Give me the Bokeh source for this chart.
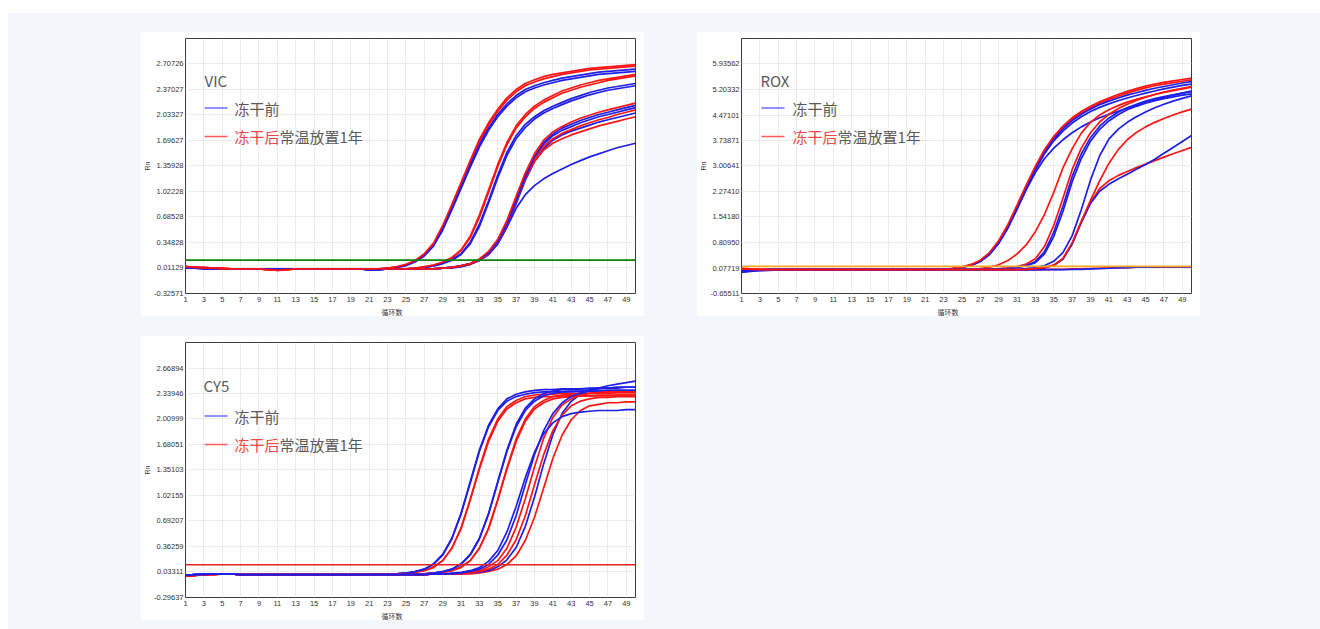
from bokeh.plotting import figure
from bokeh.models import Range1d, FixedTicker, PrintfTickFormatter, Span, Label, Arrow, Spacer, Title
from bokeh.layouts import row, column
from bokeh.embed import file_html
from bokeh.resources import INLINE

# ---------------- data ----------------
CYCLES = list(range(1, 51))
X_TICKS = [1, 3, 5, 7, 9, 11, 13, 15, 17, 19, 21, 23, 25, 27, 29, 31, 33, 35, 37, 39, 41, 43, 45, 47, 49]
X_RANGE = [1, 50]

LEGEND_BEFORE = "冻干前"
LEGEND_AFTER_RED = "冻干后"
LEGEND_AFTER_REST = "常温放置1年"
X_LABEL = "循环数"
Y_LABEL = "Rn"

# VIC
VIC_Y_TICKS = [-0.32571, 0.01129, 0.34828, 0.68528, 1.02228, 1.35928, 1.69627, 2.03327, 2.37027, 2.70726]
VIC_Y_RANGE = [-0.32571, 3.04425]
VIC_THRESHOLD = 0.115

VIC_BEFORE_1 = [0.02, 0.01, 0.01, 0, 0, 0, 0, 0, 0, 0,
                0, 0, 0, 0, 0, 0, 0, 0, 0, 0,
                -0.01, -0.01, 0.01, 0.02, 0.05, 0.10, 0.18, 0.31, 0.53, 0.80,
                1.08, 1.37, 1.64, 1.86, 2.04, 2.18, 2.29, 2.37, 2.42, 2.46,
                2.49, 2.52, 2.54, 2.56, 2.58, 2.60, 2.61, 2.62, 2.63, 2.64]
VIC_AFTER_1 = [0.03, 0.02, 0.01, 0.01, 0, 0, 0, 0, 0, -0.01,
               -0.02, -0.01, 0, 0, 0, 0, 0, 0, 0, 0,
               0, 0, 0.01, 0.03, 0.06, 0.11, 0.20, 0.34, 0.57, 0.85,
               1.14, 1.43, 1.71, 1.93, 2.11, 2.26, 2.37, 2.45, 2.50, 2.54,
               2.57, 2.59, 2.61, 2.63, 2.65, 2.66, 2.67, 2.68, 2.69, 2.70]
VIC_BEFORE_2 = [0.02, 0.02, 0.01, 0.01, 0, 0, 0, 0, 0, 0,
                0, 0, 0, 0, 0, 0, 0, 0, 0, 0,
                -0.01, 0, 0, 0.02, 0.04, 0.09, 0.17, 0.30, 0.51, 0.78,
                1.06, 1.34, 1.61, 1.83, 2.01, 2.15, 2.26, 2.34, 2.39, 2.43,
                2.46, 2.49, 2.51, 2.53, 2.55, 2.57, 2.58, 2.59, 2.60, 2.61]
VIC_AFTER_2 = [0.03, 0.02, 0.02, 0.01, 0.01, 0, 0, 0, 0, -0.01,
               -0.01, -0.01, 0, 0, 0, 0, 0, 0, 0, 0,
               0, 0, 0.01, 0.02, 0.05, 0.10, 0.19, 0.32, 0.55, 0.83,
               1.11, 1.40, 1.68, 1.90, 2.08, 2.23, 2.34, 2.42, 2.47, 2.51,
               2.54, 2.57, 2.59, 2.61, 2.63, 2.64, 2.65, 2.66, 2.67, 2.68]
VIC_BEFORE_3 = [0.02, 0.01, 0.01, 0, 0, 0, 0, 0, 0, 0,
                0, 0, 0, 0, 0, 0, 0, 0, 0, 0,
                -0.01, -0.01, 0, 0, 0, 0.01, 0.02, 0.04, 0.07, 0.12,
                0.20, 0.35, 0.59, 0.90, 1.24, 1.54, 1.76, 1.91, 2.01, 2.09,
                2.15, 2.20, 2.25, 2.29, 2.33, 2.36, 2.39, 2.41, 2.43, 2.45]
VIC_AFTER_3 = [0.03, 0.02, 0.01, 0.01, 0, 0, 0, 0, 0, 0,
               -0.01, 0, 0, 0, 0, 0, 0, 0, 0, 0,
               0, 0, 0, 0, 0, 0.01, 0.03, 0.05, 0.09, 0.15,
               0.25, 0.43, 0.71, 1.04, 1.38, 1.67, 1.89, 2.04, 2.15, 2.23,
               2.29, 2.35, 2.39, 2.43, 2.46, 2.49, 2.51, 2.53, 2.55, 2.57]
VIC_BEFORE_4 = [0.02, 0.01, 0, 0, 0, 0, 0, 0, 0, 0,
                0, 0, 0, 0, 0, 0, 0, 0, 0, 0,
                -0.01, -0.01, 0, 0, 0, 0, 0.02, 0.04, 0.07, 0.11,
                0.19, 0.33, 0.56, 0.87, 1.20, 1.50, 1.72, 1.87, 1.98, 2.06,
                2.12, 2.17, 2.22, 2.26, 2.30, 2.33, 2.36, 2.38, 2.40, 2.42]
VIC_AFTER_4 = [0.03, 0.02, 0.01, 0.01, 0.01, 0, 0, 0, 0, -0.01,
               -0.01, 0, 0, 0, 0, 0, 0, 0, 0, 0,
               0, 0, 0, 0, 0, 0.01, 0.02, 0.05, 0.08, 0.14,
               0.24, 0.41, 0.68, 1.01, 1.35, 1.64, 1.86, 2.01, 2.12, 2.20,
               2.26, 2.32, 2.36, 2.40, 2.43, 2.46, 2.49, 2.51, 2.53, 2.55]
VIC_BEFORE_5 = [0.02, 0.01, 0.01, 0, 0, 0, 0, 0, 0, 0,
                0, 0, 0, 0, 0, 0, 0, 0, 0, 0,
                -0.01, -0.01, 0, 0, 0, 0, 0, 0, 0.01, 0.02,
                0.04, 0.07, 0.12, 0.21, 0.36, 0.60, 0.91, 1.22, 1.48, 1.67,
                1.78, 1.86, 1.91, 1.96, 2.00, 2.04, 2.07, 2.10, 2.13, 2.16]
VIC_AFTER_5 = [0.03, 0.02, 0.01, 0.01, 0, 0, 0, 0, 0, -0.01,
               -0.02, -0.01, 0, 0, 0, 0, 0, 0, 0, 0,
               0, 0, 0, 0, 0, 0, 0, 0, 0.01, 0.02,
               0.04, 0.07, 0.13, 0.23, 0.39, 0.64, 0.96, 1.27, 1.52, 1.70,
               1.81, 1.88, 1.94, 1.99, 2.03, 2.07, 2.10, 2.13, 2.16, 2.19]
VIC_BEFORE_6 = [0.02, 0.01, 0.01, 0.01, 0, 0, 0, 0, 0, 0,
                0, 0, 0, 0, 0, 0, 0, 0, 0, 0,
                0, -0.01, 0, 0, 0, 0, 0, 0, 0.01, 0.02,
                0.04, 0.07, 0.12, 0.21, 0.36, 0.60, 0.91, 1.22, 1.47, 1.65,
                1.76, 1.83, 1.88, 1.93, 1.97, 2.01, 2.04, 2.07, 2.10, 2.13]
VIC_AFTER_6 = [0.03, 0.02, 0.02, 0.01, 0, 0, 0, 0, 0, 0,
               -0.01, -0.01, 0, 0, 0, 0, 0, 0, 0, 0,
               0, 0, 0, 0, 0, 0, 0, 0, 0.01, 0.02,
               0.04, 0.07, 0.12, 0.22, 0.37, 0.62, 0.93, 1.23, 1.46, 1.62,
               1.72, 1.79, 1.84, 1.89, 1.93, 1.97, 2.00, 2.04, 2.07, 2.10]
VIC_BEFORE_7 = [0.02, 0.01, 0, 0, 0, 0, 0, 0, 0, 0,
                0, 0, 0, 0, 0, 0, 0, 0, 0, 0,
                -0.01, -0.01, 0, 0, 0, 0, 0, 0, 0.01, 0.01,
                0.03, 0.06, 0.11, 0.19, 0.33, 0.56, 0.86, 1.17, 1.42, 1.59,
                1.70, 1.77, 1.82, 1.86, 1.90, 1.94, 1.97, 2.00, 2.03, 2.06]
VIC_AFTER_7 = [0.03, 0.02, 0.01, 0.01, 0, 0, 0, 0, 0, -0.01,
               -0.01, 0, 0, 0, 0, 0, 0, 0, 0, 0,
               0, 0, 0, 0, 0, 0, 0, 0, 0.01, 0.02,
               0.04, 0.06, 0.11, 0.20, 0.35, 0.58, 0.89, 1.19, 1.42, 1.57,
               1.66, 1.72, 1.77, 1.81, 1.85, 1.89, 1.92, 1.95, 1.98, 2.01]
VIC_BEFORE_8 = [0.02, 0.01, 0.01, 0, 0, 0, 0, 0, 0, 0,
                0, 0, 0, 0, 0, 0, 0, 0, 0, 0,
                -0.01, -0.01, 0, 0, 0, 0, 0, 0, 0.01, 0.02,
                0.03, 0.06, 0.11, 0.19, 0.33, 0.55, 0.80, 0.98, 1.10, 1.19,
                1.26, 1.32, 1.38, 1.43, 1.48, 1.52, 1.56, 1.60, 1.63, 1.66]

# ROX
ROX_Y_TICKS = [-0.65511, 0.07719, 0.80950, 1.54180, 2.27410, 3.00641, 3.73871, 4.47101, 5.20332, 5.93562]
ROX_Y_RANGE = [-0.65511, 6.66792]
ROX_THRESHOLD = 0.125

ROX_BEFORE_1 = [-0.03, 0.00, 0.01, 0.02, 0.02, 0.03, 0.03, 0.03, 0.03, 0.03,
                0.03, 0.03, 0.03, 0.03, 0.03, 0.03, 0.03, 0.03, 0.03, 0.03,
                0.03, 0.03, 0.04, 0.06, 0.10, 0.16, 0.27, 0.48, 0.80, 1.25,
                1.80, 2.38, 2.92, 3.40, 3.78, 4.07, 4.31, 4.49, 4.64, 4.77,
                4.87, 4.96, 5.04, 5.11, 5.18, 5.24, 5.29, 5.34, 5.39, 5.43]
ROX_AFTER_1 = [0.07, 0.05, 0.04, 0.03, 0.03, 0.03, 0.03, 0.03, 0.03, 0.03,
               0.03, 0.03, 0.03, 0.03, 0.03, 0.03, 0.03, 0.03, 0.03, 0.03,
               0.03, 0.03, 0.04, 0.07, 0.11, 0.18, 0.30, 0.52, 0.86, 1.32,
               1.88, 2.46, 3.00, 3.48, 3.86, 4.15, 4.39, 4.57, 4.72, 4.85,
               4.96, 5.06, 5.15, 5.23, 5.30, 5.36, 5.41, 5.45, 5.49, 5.53]
ROX_BEFORE_2 = [0.00, 0.01, 0.02, 0.02, 0.03, 0.03, 0.03, 0.03, 0.03, 0.03,
                0.03, 0.03, 0.03, 0.03, 0.03, 0.03, 0.03, 0.03, 0.03, 0.03,
                0.03, 0.03, 0.04, 0.06, 0.09, 0.15, 0.26, 0.46, 0.78, 1.22,
                1.77, 2.35, 2.89, 3.36, 3.73, 4.01, 4.24, 4.42, 4.57, 4.69,
                4.79, 4.88, 4.96, 5.03, 5.10, 5.16, 5.22, 5.27, 5.32, 5.36]
ROX_AFTER_2 = [0.05, 0.04, 0.03, 0.03, 0.03, 0.03, 0.03, 0.03, 0.03, 0.03,
               0.03, 0.03, 0.03, 0.03, 0.03, 0.03, 0.03, 0.03, 0.03, 0.03,
               0.03, 0.03, 0.04, 0.06, 0.10, 0.17, 0.28, 0.50, 0.83, 1.28,
               1.84, 2.42, 2.96, 3.44, 3.82, 4.11, 4.35, 4.53, 4.68, 4.81,
               4.92, 5.01, 5.10, 5.18, 5.25, 5.31, 5.36, 5.40, 5.44, 5.48]
ROX_BEFORE_3 = [-0.05, -0.02, 0.00, 0.01, 0.02, 0.02, 0.03, 0.03, 0.03, 0.03,
                0.03, 0.03, 0.03, 0.03, 0.03, 0.03, 0.03, 0.03, 0.03, 0.03,
                0.03, 0.03, 0.04, 0.06, 0.10, 0.16, 0.27, 0.47, 0.79, 1.23,
                1.77, 2.32, 2.82, 3.22, 3.52, 3.76, 3.96, 4.13, 4.27, 4.39,
                4.49, 4.58, 4.67, 4.75, 4.83, 4.90, 4.97, 5.04, 5.10, 5.16]
ROX_AFTER_3 = [0.06, 0.04, 0.03, 0.03, 0.03, 0.03, 0.03, 0.03, 0.03, 0.03,
               0.03, 0.03, 0.03, 0.03, 0.03, 0.03, 0.03, 0.03, 0.03, 0.03,
               0.03, 0.03, 0.03, 0.03, 0.03, 0.04, 0.06, 0.10, 0.17, 0.29,
               0.48, 0.74, 1.12, 1.62, 2.25, 2.95, 3.50, 3.95, 4.26, 4.47,
               4.62, 4.74, 4.84, 4.92, 4.99, 5.06, 5.12, 5.17, 5.22, 5.27]
ROX_AFTER_4 = [0.06, 0.04, 0.03, 0.03, 0.03, 0.03, 0.03, 0.03, 0.03, 0.03,
               0.03, 0.03, 0.03, 0.03, 0.03, 0.03, 0.03, 0.03, 0.03, 0.03,
               0.03, 0.03, 0.03, 0.03, 0.03, 0.03, 0.03, 0.04, 0.05, 0.08,
               0.12, 0.19, 0.34, 0.70, 1.30, 2.08, 2.90, 3.52, 3.96, 4.27,
               4.49, 4.65, 4.78, 4.89, 4.98, 5.06, 5.13, 5.19, 5.24, 5.29]
ROX_BEFORE_4 = [-0.02, 0.01, 0.02, 0.03, 0.03, 0.03, 0.03, 0.03, 0.03, 0.03,
                0.03, 0.03, 0.03, 0.03, 0.03, 0.03, 0.03, 0.03, 0.03, 0.03,
                0.03, 0.03, 0.03, 0.03, 0.03, 0.03, 0.03, 0.04, 0.05, 0.07,
                0.10, 0.15, 0.26, 0.55, 1.10, 1.85, 2.70, 3.35, 3.82, 4.15,
                4.38, 4.55, 4.68, 4.78, 4.87, 4.94, 5.00, 5.05, 5.10, 5.14]
ROX_BEFORE_5 = [0.01, 0.02, 0.02, 0.03, 0.03, 0.03, 0.03, 0.03, 0.03, 0.03,
                0.03, 0.03, 0.03, 0.03, 0.03, 0.03, 0.03, 0.03, 0.03, 0.03,
                0.03, 0.03, 0.03, 0.03, 0.03, 0.03, 0.03, 0.04, 0.04, 0.06,
                0.09, 0.14, 0.23, 0.48, 0.98, 1.70, 2.55, 3.22, 3.72, 4.06,
                4.30, 4.48, 4.62, 4.72, 4.81, 4.88, 4.94, 4.99, 5.04, 5.08]
ROX_BEFORE_6 = [0.00, 0.01, 0.02, 0.03, 0.03, 0.03, 0.03, 0.03, 0.03, 0.03,
                0.03, 0.03, 0.03, 0.03, 0.03, 0.03, 0.03, 0.03, 0.03, 0.03,
                0.03, 0.03, 0.03, 0.03, 0.03, 0.03, 0.03, 0.03, 0.03, 0.03,
                0.04, 0.06, 0.09, 0.15, 0.27, 0.52, 1.00, 1.75, 2.60, 3.30,
                3.78, 4.06, 4.26, 4.42, 4.56, 4.68, 4.78, 4.87, 4.95, 5.02]
ROX_AFTER_5 = [0.05, 0.04, 0.03, 0.03, 0.03, 0.03, 0.03, 0.03, 0.03, 0.03,
               0.03, 0.03, 0.03, 0.03, 0.03, 0.03, 0.03, 0.03, 0.03, 0.03,
               0.03, 0.03, 0.03, 0.03, 0.03, 0.03, 0.03, 0.03, 0.03, 0.03,
               0.03, 0.04, 0.06, 0.09, 0.16, 0.35, 0.80, 1.42, 2.02, 2.58,
               3.08, 3.47, 3.76, 3.97, 4.13, 4.26, 4.37, 4.47, 4.56, 4.64]
ROX_AFTER_6 = [0.04, 0.03, 0.03, 0.03, 0.03, 0.03, 0.03, 0.03, 0.03, 0.03,
               0.03, 0.03, 0.03, 0.03, 0.03, 0.03, 0.03, 0.03, 0.03, 0.03,
               0.03, 0.03, 0.03, 0.03, 0.03, 0.03, 0.03, 0.03, 0.03, 0.03,
               0.03, 0.04, 0.06, 0.09, 0.16, 0.34, 0.78, 1.40, 1.96, 2.36,
               2.58, 2.73, 2.85, 2.96, 3.06, 3.16, 3.26, 3.36, 3.45, 3.54]
ROX_BEFORE_7 = [-0.01, 0.01, 0.02, 0.03, 0.03, 0.03, 0.03, 0.03, 0.03, 0.03,
                0.03, 0.03, 0.03, 0.03, 0.03, 0.03, 0.03, 0.03, 0.03, 0.03,
                0.03, 0.03, 0.03, 0.03, 0.03, 0.03, 0.03, 0.03, 0.03, 0.03,
                0.03, 0.04, 0.05, 0.08, 0.15, 0.33, 0.76, 1.38, 1.93, 2.28,
                2.48, 2.63, 2.77, 2.91, 3.05, 3.20, 3.37, 3.54, 3.71, 3.88]
ROX_AFTER_7 = [0.04, 0.03, 0.02, 0.02, 0.02, 0.02, 0.02, 0.02, 0.02, 0.02,
               0.02, 0.02, 0.02, 0.02, 0.02, 0.02, 0.02, 0.02, 0.02, 0.02,
               0.02, 0.02, 0.02, 0.02, 0.02, 0.02, 0.02, 0.02, 0.02, 0.02,
               0.02, 0.03, 0.03, 0.03, 0.04, 0.04, 0.05, 0.05, 0.06, 0.07,
               0.08, 0.09, 0.09, 0.10, 0.10, 0.10, 0.10, 0.10, 0.10, 0.10]
ROX_BEFORE_8 = [0.01, 0.01, 0.02, 0.02, 0.02, 0.02, 0.02, 0.02, 0.02, 0.02,
                0.02, 0.02, 0.02, 0.02, 0.02, 0.02, 0.02, 0.02, 0.02, 0.02,
                0.02, 0.02, 0.02, 0.02, 0.02, 0.02, 0.02, 0.02, 0.02, 0.02,
                0.02, 0.02, 0.02, 0.03, 0.03, 0.03, 0.04, 0.04, 0.05, 0.06,
                0.07, 0.08, 0.09, 0.10, 0.10, 0.11, 0.11, 0.11, 0.11, 0.11]

# CY5
CY5_Y_TICKS = [-0.29637, 0.03311, 0.36259, 0.69207, 1.02155, 1.35103, 1.68051, 2.00999, 2.33946, 2.66894]
CY5_Y_RANGE = [-0.29637, 2.99842]
CY5_THRESHOLD = 0.126

CY5_BEFORE_1 = [-0.01, 0, 0, 0.01, 0.01, 0.01, 0, 0, 0, 0,
                0, 0, 0, 0, 0, 0, 0, 0, 0, 0,
                0, 0.01, 0.01, 0.01, 0.02, 0.04, 0.07, 0.14, 0.26, 0.47,
                0.79, 1.20, 1.61, 1.93, 2.14, 2.27, 2.33, 2.36, 2.38, 2.39,
                2.39, 2.40, 2.40, 2.40, 2.41, 2.41, 2.41, 2.42, 2.42, 2.42]
CY5_AFTER_1 = [-0.02, -0.01, 0, 0, 0.01, 0.01, 0, 0, 0, 0,
               0, 0, 0, 0, 0, 0, 0, 0, 0, 0,
               0, 0.01, 0.01, 0.01, 0.02, 0.03, 0.05, 0.10, 0.18, 0.34,
               0.60, 0.97, 1.38, 1.75, 2.01, 2.17, 2.25, 2.30, 2.32, 2.33,
               2.33, 2.34, 2.34, 2.34, 2.34, 2.35, 2.35, 2.35, 2.35, 2.35]
CY5_BEFORE_2 = [-0.01, 0, 0.01, 0.01, 0.01, 0.01, 0, 0, 0, 0,
                0, 0, 0, 0, 0, 0, 0, 0, 0, 0,
                0, 0.01, 0.01, 0.01, 0.02, 0.04, 0.07, 0.13, 0.25, 0.46,
                0.78, 1.18, 1.59, 1.91, 2.12, 2.24, 2.30, 2.33, 2.35, 2.36,
                2.36, 2.36, 2.37, 2.37, 2.37, 2.37, 2.38, 2.38, 2.38, 2.38]
CY5_AFTER_2 = [-0.02, -0.01, 0, 0.01, 0.01, 0.01, 0, 0, 0, 0,
               0, 0, 0, 0, 0, 0, 0, 0, 0, 0,
               0, 0.01, 0.01, 0.01, 0.02, 0.03, 0.05, 0.09, 0.18, 0.34,
               0.59, 0.96, 1.36, 1.72, 1.98, 2.14, 2.22, 2.27, 2.29, 2.30,
               2.30, 2.31, 2.31, 2.31, 2.31, 2.32, 2.32, 2.32, 2.32, 2.32]
CY5_BEFORE_3 = [-0.01, 0, 0, 0.01, 0.01, 0.01, 0, 0, 0, 0,
                0, 0, 0, 0, 0, 0, 0, 0, 0, 0,
                0, 0, 0, 0, 0.01, 0.01, 0.01, 0.02, 0.04, 0.07,
                0.14, 0.26, 0.47, 0.79, 1.20, 1.61, 1.94, 2.15, 2.27, 2.34,
                2.37, 2.39, 2.39, 2.40, 2.40, 2.41, 2.41, 2.41, 2.42, 2.42]
CY5_AFTER_3 = [-0.02, -0.01, 0, 0, 0.01, 0.01, 0, 0, 0, 0,
               0, 0, 0, 0, 0, 0, 0, 0, 0, 0,
               0, 0, 0, 0, 0.01, 0.01, 0.01, 0.02, 0.03, 0.05,
               0.10, 0.18, 0.34, 0.60, 0.97, 1.38, 1.75, 2.01, 2.17, 2.25,
               2.30, 2.32, 2.33, 2.34, 2.34, 2.34, 2.34, 2.35, 2.35, 2.35]
CY5_BEFORE_4 = [-0.01, 0, 0.01, 0.01, 0.01, 0.01, 0, 0, 0, 0,
                0, 0, 0, 0, 0, 0, 0, 0, 0, 0,
                0, 0, 0, 0, 0.01, 0.01, 0.01, 0.02, 0.04, 0.07,
                0.13, 0.25, 0.46, 0.78, 1.19, 1.59, 1.91, 2.12, 2.24, 2.31,
                2.34, 2.36, 2.36, 2.37, 2.37, 2.37, 2.38, 2.38, 2.38, 2.38]
CY5_AFTER_4 = [-0.02, -0.01, 0, 0.01, 0.01, 0.01, 0, 0, 0, 0,
               0, 0, 0, 0, 0, 0, 0, 0, 0, 0,
               0, 0, 0, 0, 0.01, 0.01, 0.01, 0.02, 0.03, 0.05,
               0.09, 0.18, 0.34, 0.59, 0.96, 1.36, 1.72, 1.98, 2.14, 2.22,
               2.27, 2.29, 2.30, 2.31, 2.31, 2.31, 2.31, 2.32, 2.32, 2.32]
CY5_BEFORE_5 = [-0.01, 0, 0, 0.01, 0.01, 0.01, 0, 0, 0, 0,
                0, 0, 0, 0, 0, 0, 0, 0, 0, 0,
                0, 0, 0, 0, 0, 0, 0, 0.01, 0.01, 0.02,
                0.03, 0.05, 0.09, 0.17, 0.31, 0.55, 0.88, 1.25, 1.58, 1.82,
                1.96, 2.04, 2.08, 2.10, 2.11, 2.12, 2.12, 2.12, 2.13, 2.13]
CY5_BEFORE_6 = [-0.01, 0, 0.01, 0.01, 0.01, 0.01, 0, 0, 0, 0,
                0, 0, 0, 0, 0, 0, 0, 0, 0, 0,
                0, 0, 0, 0, 0, 0, 0, 0.01, 0.01, 0.01,
                0.02, 0.04, 0.07, 0.13, 0.25, 0.45, 0.76, 1.16, 1.55, 1.86,
                2.08, 2.22, 2.30, 2.35, 2.38, 2.41, 2.44, 2.46, 2.48, 2.50]
CY5_AFTER_5 = [-0.02, -0.01, 0, 0, 0.01, 0.01, 0, 0, 0, 0,
               0, 0, 0, 0, 0, 0, 0, 0, 0, 0,
               0, 0, 0, 0, 0, 0, 0, 0.01, 0.01, 0.01,
               0.02, 0.03, 0.05, 0.10, 0.18, 0.34, 0.61, 0.98, 1.39, 1.76,
               2.03, 2.19, 2.27, 2.32, 2.34, 2.35, 2.36, 2.36, 2.36, 2.36]
CY5_AFTER_6 = [-0.02, -0.01, 0, 0.01, 0.01, 0.01, 0, 0, 0, 0,
               0, 0, 0, 0, 0, 0, 0, 0, 0, 0,
               0, 0, 0, 0, 0, 0, 0, 0.01, 0.01, 0.01,
               0.01, 0.02, 0.04, 0.07, 0.13, 0.25, 0.45, 0.76, 1.16, 1.55,
               1.86, 2.06, 2.18, 2.24, 2.27, 2.29, 2.29, 2.30, 2.30, 2.30]
CY5_BEFORE_7 = [-0.01, 0, 0, 0.01, 0.01, 0.01, 0, 0, 0, 0,
                0, 0, 0, 0, 0, 0, 0, 0, 0, 0,
                0, 0, 0, 0, 0, 0, 0, 0.01, 0.01, 0.01,
                0.01, 0.02, 0.03, 0.05, 0.10, 0.19, 0.35, 0.62, 1.00, 1.43,
                1.81, 2.08, 2.24, 2.33, 2.38, 2.40, 2.41, 2.42, 2.42, 2.42]
CY5_AFTER_7 = [-0.02, -0.01, 0, 0, 0.01, 0.01, 0, 0, 0, 0,
               0, 0, 0, 0, 0, 0, 0, 0, 0, 0,
               0, 0, 0, 0, 0, 0, 0, 0.01, 0.01, 0.01,
               0.01, 0.01, 0.02, 0.04, 0.07, 0.13, 0.24, 0.44, 0.74, 1.12,
               1.50, 1.80, 2.00, 2.12, 2.18, 2.20, 2.22, 2.22, 2.23, 2.23]

# ---------------- styles ----------------
BLUE = "#1e1ee8"
RED = "#ff1414"
LEG_BLUE = "#6e6eff"
LEG_RED = "#ff5a5a"
TXT_GRAY = "#5a5a5a"
TXT_RED = "#f04848"
CJK = "Noto Sans CJK SC"
PAGE_BG = "#f3f7fb"

VIC_CURVES = [(VIC_BEFORE_2, BLUE), (VIC_AFTER_2, RED), (VIC_BEFORE_1, BLUE), (VIC_AFTER_1, RED),
              (VIC_BEFORE_4, BLUE), (VIC_AFTER_4, RED), (VIC_BEFORE_3, BLUE), (VIC_AFTER_3, RED),
              (VIC_BEFORE_8, BLUE), (VIC_BEFORE_7, BLUE), (VIC_AFTER_7, RED), (VIC_BEFORE_6, BLUE),
              (VIC_AFTER_6, RED), (VIC_BEFORE_5, BLUE), (VIC_AFTER_5, RED)]
ROX_CURVES = [(ROX_AFTER_7, RED), (ROX_BEFORE_8, BLUE),
              (ROX_BEFORE_3, BLUE), (ROX_BEFORE_2, BLUE), (ROX_AFTER_2, RED), (ROX_BEFORE_1, BLUE), (ROX_AFTER_1, RED),
              (ROX_AFTER_3, RED), (ROX_BEFORE_5, BLUE), (ROX_AFTER_4, RED), (ROX_BEFORE_4, BLUE),
              (ROX_BEFORE_6, BLUE), (ROX_AFTER_6, RED), (ROX_BEFORE_7, BLUE), (ROX_AFTER_5, RED)]
CY5_CURVES = [(CY5_AFTER_2, RED), (CY5_AFTER_1, RED), (CY5_BEFORE_2, BLUE), (CY5_BEFORE_1, BLUE),
              (CY5_AFTER_4, RED), (CY5_AFTER_3, RED), (CY5_BEFORE_4, BLUE), (CY5_BEFORE_3, BLUE),
              (CY5_AFTER_7, RED), (CY5_BEFORE_7, BLUE), (CY5_AFTER_6, RED), (CY5_AFTER_5, RED),
              (CY5_BEFORE_6, BLUE), (CY5_BEFORE_5, BLUE)]

for _ys, _c in VIC_CURVES + ROX_CURVES + CY5_CURVES:
    assert len(_ys) == len(CYCLES)


def make_panel(title, y_ticks, y_range, threshold, thr_color, curves, leg):
    p = figure(width=504, height=285, x_range=Range1d(*X_RANGE), y_range=Range1d(*y_range),
               output_backend="svg", toolbar_location=None,
               min_border_left=45, min_border_right=9, min_border_top=7, min_border_bottom=21)
    p.background_fill_color = "white"
    p.border_fill_color = "white"
    p.outline_line_color = "#3c3c3c"
    p.outline_line_width = 1

    p.xaxis.ticker = FixedTicker(ticks=X_TICKS)
    p.yaxis.ticker = FixedTicker(ticks=y_ticks)
    p.yaxis.formatter = PrintfTickFormatter(format="%.5f")
    for ax in (p.xaxis[0], p.yaxis[0]):
        ax.axis_line_color = None
        ax.major_tick_line_color = None
        ax.minor_tick_line_color = None
        ax.major_tick_out = 0
        ax.major_tick_in = 0
        ax.minor_tick_out = 0
        ax.major_label_text_font = "Liberation Sans"
        ax.major_label_text_font_size = "7.5px"
        ax.major_label_text_color = "#333333"
        ax.major_label_standoff = 2
    p.xaxis.major_label_standoff = 3
    p.yaxis.axis_label = Y_LABEL
    p.yaxis.axis_label_text_font = "Liberation Sans"
    p.yaxis.axis_label_text_font_size = "7px"
    p.yaxis.axis_label_text_font_style = "normal"
    p.yaxis.axis_label_text_color = "#333333"
    p.yaxis.axis_label_standoff = 0

    p.add_layout(Title(text=X_LABEL, align="left", offset=196, standoff=0,
                       text_font=CJK, text_font_size="7px", text_font_style="normal",
                       text_color="#333333"), "below")

    p.xgrid.grid_line_color = "#ebebeb"
    p.ygrid.grid_line_color = "#ebebeb"

    for ys, color in curves:
        p.line(CYCLES, ys, line_color=color, line_width=1.7)

    p.add_layout(Span(location=threshold, dimension="width", line_color=thr_color, line_width=1.6))

    tx, ty, lx, y1, y2, txt_x = leg
    p.add_layout(Label(x=tx, y=ty, x_units="screen", y_units="screen", text=title,
                       text_font=CJK, text_font_size="15px", text_color=TXT_GRAY,
                       text_baseline="middle", text_align="left"))
    p.add_layout(Arrow(start=None, end=None, x_start=lx, y_start=y1, x_end=lx + 23, y_end=y1,
                       start_units="screen", end_units="screen", line_color=LEG_BLUE, line_width=1.3))
    p.add_layout(Arrow(start=None, end=None, x_start=lx, y_start=y2, x_end=lx + 23, y_end=y2,
                       start_units="screen", end_units="screen", line_color=LEG_RED, line_width=1.3))
    p.add_layout(Label(x=txt_x, y=y1, x_units="screen", y_units="screen", text=LEGEND_BEFORE,
                       text_font=CJK, text_font_size="15px", text_color=TXT_GRAY,
                       text_baseline="middle", text_align="left"))
    p.add_layout(Label(x=txt_x, y=y2, x_units="screen", y_units="screen", text=LEGEND_AFTER_RED,
                       text_font=CJK, text_font_size="15px", text_color=TXT_RED,
                       text_baseline="middle", text_align="left"))
    p.add_layout(Label(x=txt_x + 45, y=y2, x_units="screen", y_units="screen", text=LEGEND_AFTER_REST,
                       text_font=CJK, text_font_size="15px", text_color=TXT_GRAY,
                       text_baseline="middle", text_align="left"))
    return p


vic = make_panel("VIC", VIC_Y_TICKS, VIC_Y_RANGE, VIC_THRESHOLD, "#0b800b", VIC_CURVES,
                 (19, 213, 19, 185.5, 157, 49))
rox = make_panel("ROX", ROX_Y_TICKS, ROX_Y_RANGE, ROX_THRESHOLD, "#f5a623", ROX_CURVES,
                 (19, 213, 20, 185.5, 157, 51))
cy5 = make_panel("CY5", CY5_Y_TICKS, CY5_Y_RANGE, CY5_THRESHOLD, "#e42222", CY5_CURVES,
                 (18, 212, 19, 181.5, 153, 49))

body = column(
    Spacer(width=1312, height=18),
    row(Spacer(width=132, height=285), vic, Spacer(width=52, height=285), rox),
    Spacer(width=1312, height=19),
    row(Spacer(width=132, height=285), cy5),
    width=1312, height=616, styles={"background-color": PAGE_BG},
)
root = column(
    Spacer(width=1320, height=13),
    row(Spacer(width=8, height=616), body),
    width=1320, height=629,
)

open("out.html", "w").write(file_html(root, INLINE))
